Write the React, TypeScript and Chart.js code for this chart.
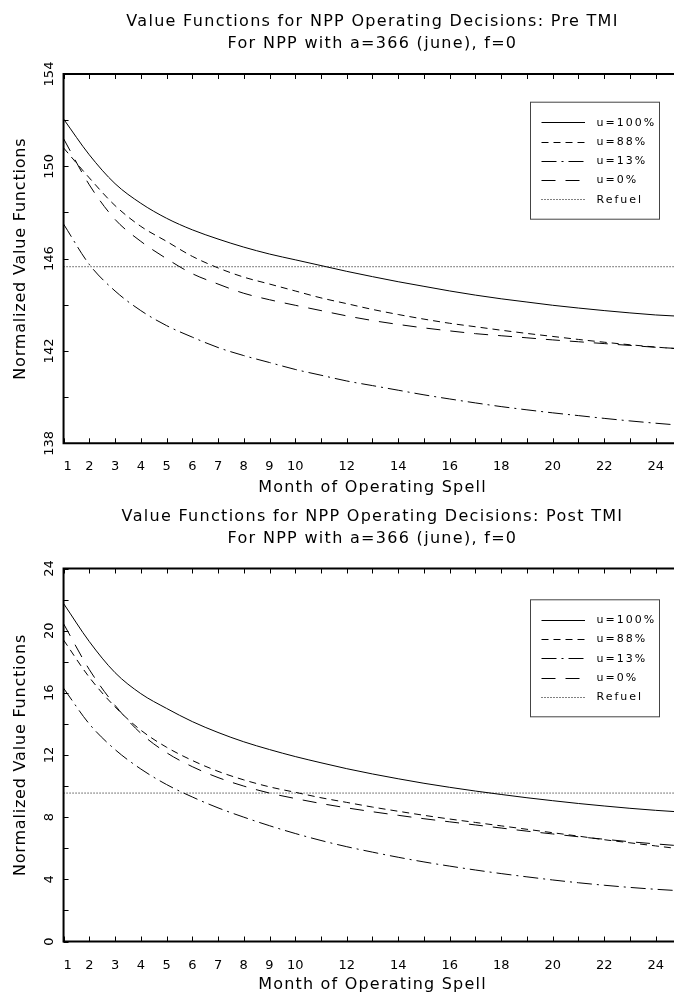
import React, { useEffect, useRef } from 'react';
import { Chart, registerables } from 'chart.js';
Chart.register(...registerables);

// ---------------- data ----------------
const MONTHS = [1, 2, 3, 4, 5, 6, 7, 8, 9, 10, 11, 12, 13, 14, 15, 16, 17, 18, 19, 20, 21, 22, 23, 24, 25];
const X_TICK_LABELS = [1, 2, 3, 4, 5, 6, 7, 8, 9, 10, 12, 14, 16, 18, 20, 22, 24];
const REFUEL_MONTHS = [1, 25];

const PRE_U100 = [152.05, 150.5, 149.25, 148.4, 147.75, 147.25, 146.85, 146.5, 146.2, 145.95, 145.7, 145.45, 145.22, 145.0, 144.8, 144.6, 144.42, 144.26, 144.12, 143.98, 143.86, 143.75, 143.65, 143.56, 143.5];
const PRE_U88 = [150.8, 149.5, 148.3, 147.4, 146.75, 146.1, 145.6, 145.2, 144.9, 144.6, 144.3, 144.05, 143.8, 143.58, 143.38, 143.2, 143.05, 142.9, 142.76, 142.63, 142.5, 142.38, 142.27, 142.17, 142.08];
const PRE_U13 = [147.5, 145.75, 144.6, 143.75, 143.1, 142.6, 142.15, 141.8, 141.5, 141.2, 140.95, 140.7, 140.5, 140.3, 140.1, 139.92, 139.75, 139.59, 139.45, 139.32, 139.2, 139.08, 138.97, 138.87, 138.78];
const PRE_U0 = [151.2, 149.2, 147.7, 146.75, 146.0, 145.35, 144.9, 144.5, 144.22, 143.98, 143.75, 143.52, 143.32, 143.15, 143.0, 142.87, 142.75, 142.66, 142.57, 142.48, 142.4, 142.32, 142.24, 142.16, 142.1];
const PRE_REFUEL = [145.65, 145.65];
const PRE_Y_LABELS = [138, 142, 146, 150, 154];

const POST_U100 = [21.75, 19.3, 17.3, 15.95, 15.0, 14.15, 13.45, 12.85, 12.35, 11.9, 11.5, 11.12, 10.78, 10.47, 10.18, 9.92, 9.68, 9.46, 9.25, 9.06, 8.88, 8.72, 8.57, 8.44, 8.33];
const POST_U88 = [19.4, 17.0, 15.1, 13.6, 12.5, 11.65, 10.95, 10.4, 9.95, 9.6, 9.25, 8.95, 8.65, 8.38, 8.12, 7.88, 7.66, 7.44, 7.22, 7.0, 6.78, 6.55, 6.35, 6.15, 5.95];
const POST_U13 = [16.3, 14.0, 12.35, 11.1, 10.1, 9.3, 8.6, 8.0, 7.45, 6.95, 6.5, 6.1, 5.75, 5.42, 5.12, 4.85, 4.6, 4.37, 4.16, 3.96, 3.78, 3.62, 3.48, 3.36, 3.26];
const POST_U0 = [20.45, 17.5, 15.2, 13.4, 12.15, 11.25, 10.55, 10.0, 9.55, 9.2, 8.88, 8.6, 8.35, 8.12, 7.9, 7.7, 7.5, 7.3, 7.1, 6.92, 6.74, 6.58, 6.42, 6.28, 6.15];
const POST_REFUEL = [9.55, 9.55];
const POST_Y_LABELS = [0, 4, 8, 12, 16, 20, 24];

const SERIES_LABELS = ['u=100%', 'u=88%', 'u=13%', 'u=0%', 'Refuel'];
const PRE_TITLE = ['Value Functions for NPP Operating Decisions: Pre TMI', 'For NPP with a=366 (june), f=0'];
const POST_TITLE = ['Value Functions for NPP Operating Decisions: Post TMI', 'For NPP with a=366 (june), f=0'];
const X_TITLE = 'Month of Operating Spell';
const Y_TITLE = 'Normalized Value Functions';

// ---------------- styles ----------------
const FONT = '"DejaVu Sans", sans-serif';
const DASHES: number[][] = [[], [7, 5], [15, 5, 2, 5], [14, 10], [1, 2]];

type PanelCfg = {
  title: string[];
  series: number[][];
  refuel: number[];
  yMin: number;
  yMax: number;
  yLabels: number[];
  height: number;
  padTop: number;
  xHeight: number;
  legendTop: number;
  xTitleOffset: number;
};

function makePlugin(cfg: PanelCfg) {
  return {
    id: 'panelDecor',
    afterDraw(chart: any) {
      const { ctx, chartArea: ca } = chart;
      const xs = chart.scales.x;
      const ys = chart.scales.y;
      ctx.save();
      // frame
      ctx.strokeStyle = '#000';
      ctx.lineWidth = 2;
      ctx.setLineDash([]);
      ctx.beginPath();
      ctx.moveTo(ca.left, ca.top);
      ctx.lineTo(ca.right + 2, ca.top);
      ctx.moveTo(ca.left, ca.top - 1);
      ctx.lineTo(ca.left, ca.bottom + 1);
      ctx.moveTo(ca.left, ca.bottom);
      ctx.lineTo(ca.right + 2, ca.bottom);
      ctx.stroke();
      // ticks
      ctx.lineWidth = 1;
      ctx.beginPath();
      for (const m of MONTHS) {
        const px = Math.round(xs.getPixelForValue(m)) + 0.5;
        ctx.moveTo(px, ca.bottom);
        ctx.lineTo(px, ca.bottom - 5);
        ctx.moveTo(px, ca.top);
        ctx.lineTo(px, ca.top + 5);
      }
      for (const t of ys.ticks) {
        const py = Math.round(ys.getPixelForValue(t.value)) + 0.5;
        ctx.moveTo(ca.left, py);
        ctx.lineTo(ca.left + 5, py);
      }
      ctx.stroke();

      // y tick labels (rotated, reading upward)
      ctx.fillStyle = '#000';
      ctx.textAlign = 'center';
      ctx.textBaseline = 'middle';
      ctx.font = `13px ${FONT}`;
      for (const v of cfg.yLabels) {
        const py = ys.getPixelForValue(v);
        ctx.save();
        ctx.translate(ca.left - 13.5, py);
        ctx.rotate(-Math.PI / 2);
        ctx.fillText(String(v), 0, 0);
        ctx.restore();
      }

      // titles
      ctx.font = `16px ${FONT}`;
      const cx = (ca.left + ca.right) / 2;
      ctx.letterSpacing = '1.3px';
      ctx.fillText(cfg.title[0], cx, ca.top - 52);
      ctx.fillText(cfg.title[1], cx, ca.top - 30);
      ctx.letterSpacing = '1.2px';
      ctx.fillText(X_TITLE, cx, ca.bottom + cfg.xTitleOffset);
      ctx.save();
      ctx.letterSpacing = '0.8px';
      ctx.translate(21, (ca.top + ca.bottom) / 2);
      ctx.rotate(-Math.PI / 2);
      ctx.fillText(Y_TITLE, 0, 0);
      ctx.restore();

      // legend
      const bx = 530.5, by = cfg.legendTop + 0.5, bw = 129, bh = 117;
      ctx.fillStyle = '#fff';
      ctx.fillRect(bx, by, bw, bh);
      ctx.strokeStyle = '#444';
      ctx.lineWidth = 1;
      ctx.setLineDash([]);
      ctx.strokeRect(bx, by, bw, bh);
      ctx.font = `11px ${FONT}`;
      ctx.letterSpacing = '2px';
      ctx.textAlign = 'left';
      ctx.fillStyle = '#000';
      chart.data.datasets.forEach((ds: any, i: number) => {
        const ry = by + 20 + i * 19.3;
        ctx.strokeStyle = '#000';
        ctx.setLineDash(ds.borderDash || []);
        ctx.beginPath();
        ctx.moveTo(541.5, Math.round(ry) + 0.5);
        ctx.lineTo(585, Math.round(ry) + 0.5);
        ctx.stroke();
        ctx.setLineDash([]);
        ctx.fillText(ds.label, 596.5, ry + 0.5);
      });
      ctx.restore();
    },
  };
}

function Panel({ cfg }: { cfg: PanelCfg }) {
  const ref = useRef<HTMLCanvasElement | null>(null);
  useEffect(() => {
    if (!ref.current) return;
    const datasets: any[] = cfg.series.map((arr, i) => ({
      label: SERIES_LABELS[i],
      data: MONTHS.map((m, j) => ({ x: m, y: arr[j] })),
      borderColor: '#000',
      borderWidth: 1,
      borderDash: DASHES[i],
      pointRadius: 0,
      fill: false,
      cubicInterpolationMode: 'monotone',
    }));
    datasets.push({
      label: SERIES_LABELS[4],
      data: REFUEL_MONTHS.map((m, j) => ({ x: m, y: cfg.refuel[j] })),
      borderColor: '#000',
      borderWidth: 1,
      borderDash: DASHES[4],
      pointRadius: 0,
      fill: false,
    });
    const chart = new Chart(ref.current, {
      type: 'line',
      data: { datasets },
      options: {
        animation: false,
        responsive: false,
        events: [],
        layout: { padding: { top: cfg.padTop, left: 0, right: 8.6, bottom: 0 } },
        plugins: { legend: { display: false }, title: { display: false }, tooltip: { enabled: false } },
        scales: {
          x: {
            type: 'linear',
            min: 1,
            max: 25,
            grid: { display: false },
            border: { display: false },
            ticks: {
              stepSize: 1,
              autoSkip: false,
              maxRotation: 0,
              minRotation: 0,
              padding: 8,
              color: '#000',
              font: { family: FONT, size: 13 },
              callback: (v: any) => (X_TICK_LABELS.includes(v) ? (v === 1 ? '  1' : String(v)) : ''),
            },
            afterFit: (s: any) => {
              s.height = cfg.xHeight;
            },
          },
          y: {
            type: 'linear',
            min: cfg.yMin,
            max: cfg.yMax,
            grid: { display: false },
            border: { display: false },
            ticks: { stepSize: 2, autoSkip: false, display: false },
            afterFit: (s: any) => {
              s.width = 63.55;
            },
          },
        },
      } as any,
      plugins: [makePlugin(cfg)],
    });
    return () => chart.destroy();
  }, [cfg]);
  return <canvas ref={ref} width={690} height={cfg.height} style={{ display: 'block' }} />;
}

const PRE_CFG: PanelCfg = {
  title: PRE_TITLE,
  series: [PRE_U100, PRE_U88, PRE_U13, PRE_U0],
  refuel: PRE_REFUEL,
  yMin: 138,
  yMax: 154,
  yLabels: PRE_Y_LABELS,
  height: 496,
  padTop: 74,
  xHeight: 52.7,
  legendTop: 101.7,
  xTitleOffset: 45,
};

const POST_CFG: PanelCfg = {
  title: POST_TITLE,
  series: [POST_U100, POST_U88, POST_U13, POST_U0],
  refuel: POST_REFUEL,
  yMin: 0,
  yMax: 24,
  yLabels: POST_Y_LABELS,
  height: 500,
  padTop: 72.5,
  xHeight: 54.5,
  legendTop: 103.3,
  xTitleOffset: 43.5,
};

export default function App() {
  return (
    <div style={{ position: 'absolute', left: 0, top: 0, width: 674, height: 996, overflow: 'hidden', background: '#fff' }}>
      <Panel cfg={PRE_CFG} />
      <Panel cfg={POST_CFG} />
    </div>
  );
}
